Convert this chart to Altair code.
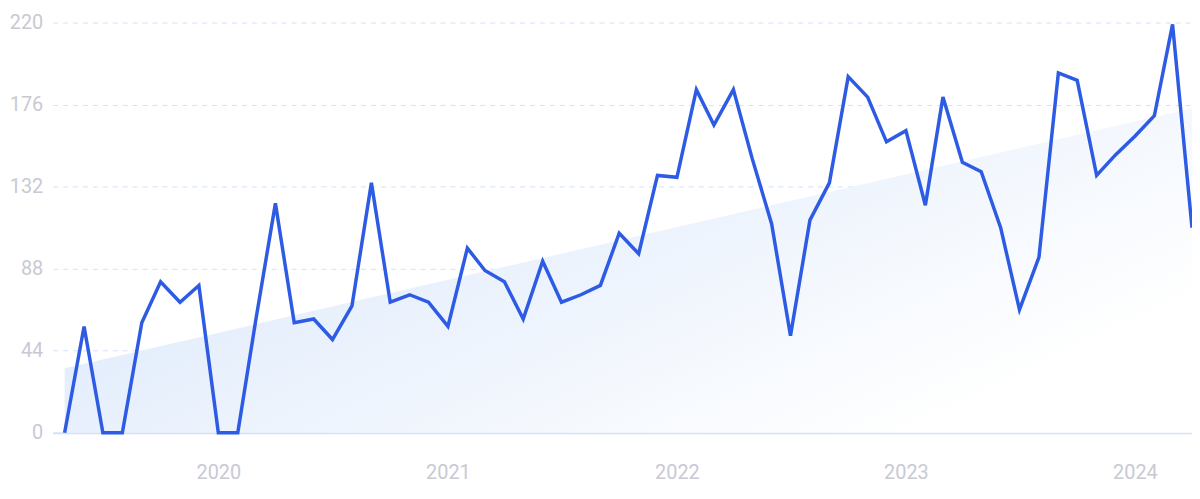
import altair as alt
import pandas as pd

months = pd.date_range("2019-05-01", "2024-04-01", freq="MS").strftime("%Y-%m-%d").tolist()
values = [
    0, 57, 0, 0, 59, 81, 70, 79, 0, 0,
    61, 123, 59, 61, 50, 68, 134, 70, 74, 70,
    57, 99, 87, 81, 61, 92, 70, 74, 79, 107,
    96, 138, 137, 184, 165, 184, 147, 112, 52, 114,
    134, 191, 180, 156, 162, 122, 180, 145, 140, 110,
    66, 94, 193, 189, 138, 149, 159, 170, 219, 110,
]
y_ticks = [0, 44, 88, 132, 176, 220]
year_ticks = [2020, 2021, 2022, 2023, 2024]

df = pd.DataFrame({"date": months, "value": values})

FONT = "Roboto"
LABEL_COLOR = "#c9c9d3"

x_scale = alt.Scale(
    type="utc",
    domain=[alt.DateTime(year=2019, month=4, date=12, utc=True),
            alt.DateTime(year=2024, month=4, date=1, utc=True)],
)
y_scale = alt.Scale(domain=[0, 220], nice=False, zero=True)

x_axis = alt.Axis(
    values=[alt.DateTime(year=y, month=1, date=1, utc=True) for y in year_ticks],
    format="%Y", formatType="utc", title=None, ticks=False, grid=False,
    domain=True, domainColor="#d3e2fa", domainWidth=2,
    labelColor=LABEL_COLOR, labelFontSize=20, labelFont=FONT, labelPadding=30,
)
y_axis = alt.Axis(
    values=y_ticks, title=None, ticks=False, domain=False,
    grid=True, gridColor="#d2e2fb", gridDash=[5, 5], gridWidth=1,
    labelColor=LABEL_COLOR, labelFontSize=20, labelFont=FONT, labelPadding=10,
)

base = alt.Chart(df)

trend = base.transform_regression("date", "value").transform_calculate(
    zero="0"
).mark_area(
    color=alt.Gradient(
        gradient="linear",
        stops=[alt.GradientStop(color="#dbe8fb", offset=0),
               alt.GradientStop(color="#e6effc", offset=0.4),
               alt.GradientStop(color="#ffffff", offset=1)],
        x1=0, y1=0, x2=1, y2=0.6,
    ),
    opacity=1,
).encode(
    x=alt.X("date:T", scale=x_scale, axis=x_axis),
    y=alt.Y("value:Q", scale=y_scale, axis=y_axis),
    y2=alt.Y2("zero:Q"),
)

line = base.mark_line(
    color="#2d5be3", strokeWidth=3.5, strokeJoin="miter", strokeCap="butt"
).encode(
    x=alt.X("date:T", scale=x_scale),
    y=alt.Y("value:Q", scale=y_scale),
)

chart = alt.layer(trend, line).properties(
    width=1147, height=413,
    autosize=alt.AutoSizeParams(type="none"),
    padding={"left": 45, "top": 13, "right": 0, "bottom": 51},
).configure_view(stroke=None)

chart.save("out.html", embed_options={"renderer": "svg", "actions": False})
